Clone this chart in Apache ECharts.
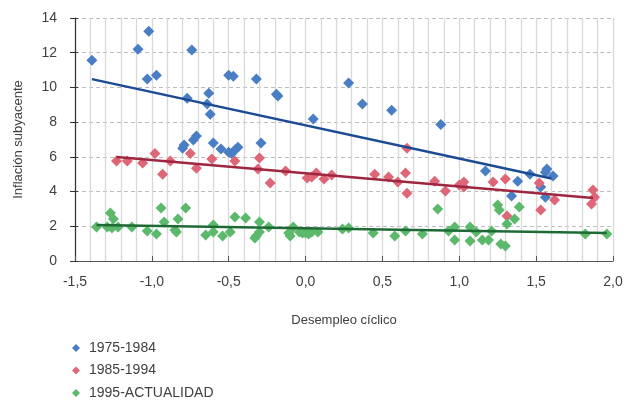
<!DOCTYPE html>
<html><head><meta charset="utf-8">
<script src="https://cdn.jsdelivr.net/npm/echarts@6/dist/echarts.min.js"></script>
<style>html,body{margin:0;padding:0;background:#fff}#c{width:632px;height:403px}</style>
</head><body><div id="c"></div>
<script>
const seriesNames = ['1975-1984', '1985-1994', '1995-ACTUALIDAD'];
const xTicks = [-1.5, -1.0, -0.5, 0.0, 0.5, 1.0, 1.5, 2.0];
const yTicks = [0, 2, 4, 6, 8, 10, 12, 14];

const pts1975 = [[-1.39,11.57],[-1.09,12.2],[-1.02,13.24],[-1.03,10.48],[-0.97,10.7],[-0.74,12.15],[-0.77,9.38],[-0.64,9.04],[-0.63,9.67],[-0.62,8.46],[-0.50,10.7],[-0.47,10.65],[-0.32,10.48],[-0.19,9.6],[-0.18,9.5],[-0.79,6.68],[-0.80,6.5],[-0.73,6.97],[-0.71,7.2],[-0.60,6.8],[-0.55,6.45],[-0.50,6.27],[-0.48,6.2],[-0.46,6.4],[-0.44,6.56],[-0.29,6.8],[0.05,8.18],[0.28,10.25],[0.37,9.04],[0.56,8.69],[0.88,7.87],[1.17,5.18],[1.34,3.74],[1.38,4.6],[1.46,5.0],[1.56,5.12],[1.57,5.3],[1.53,4.26],[1.56,3.68],[1.61,4.89]];

const pts1985 = [[-1.23,5.76],[-1.16,5.76],[-1.06,5.64],[-0.98,6.2],[-0.93,5.0],[-0.88,5.76],[-0.75,6.2],[-0.71,5.35],[-0.61,5.87],[-0.46,5.76],[-0.30,5.93],[-0.31,5.3],[-0.23,4.49],[-0.13,5.18],[0.01,4.78],[0.04,4.84],[0.07,5.07],[0.12,4.72],[0.17,4.95],[0.45,5.0],[0.54,4.84],[0.60,4.55],[0.65,5.07],[0.66,3.91],[0.66,6.5],[0.84,4.6],[0.91,4.03],[1.0,4.38],[1.03,4.55],[1.03,4.26],[1.22,4.55],[1.30,4.72],[1.31,2.59],[1.52,4.49],[1.53,2.94],[1.62,3.51],[1.87,4.09],[1.88,3.68],[1.86,3.28]];

const pts1995 = [[-1.36,1.96],[-1.27,2.76],[-1.25,2.42],[-1.29,1.96],[-1.26,1.9],[-1.22,1.96],[-1.13,1.96],[-1.03,1.73],[-0.97,1.55],[-0.94,3.05],[-0.92,2.25],[-0.85,1.78],[-0.84,1.67],[-0.83,2.42],[-0.78,3.05],[-0.65,1.5],[-0.60,1.67],[-0.60,2.07],[-0.54,1.44],[-0.49,1.67],[-0.46,2.53],[-0.39,2.48],[-0.33,1.32],[-0.32,1.44],[-0.30,2.25],[-0.30,1.67],[-0.24,1.96],[-0.11,1.61],[-0.10,1.44],[-0.08,1.96],[-0.04,1.67],[0.0,1.61],[-0.02,1.61],[0.02,1.55],[0.04,1.67],[0.08,1.67],[0.24,1.84],[0.28,1.9],[0.44,1.61],[0.58,1.44],[0.65,1.73],[0.76,1.55],[0.86,2.99],[0.93,1.73],[0.97,1.96],[0.97,1.21],[1.07,1.96],[1.07,1.15],[1.11,1.67],[1.15,1.21],[1.19,1.21],[1.21,1.73],[1.25,3.22],[1.26,2.94],[1.27,0.98],[1.30,0.86],[1.31,2.13],[1.36,2.42],[1.39,3.11],[1.82,1.55],[1.96,1.55]];

const trend1975 = [[-1.39,10.48],[1.60,4.75]];
const trend1985 = [[-1.23,5.99],[1.87,3.63]];
const trend1995 = [[-1.36,2.07],[1.96,1.61]];

const markerColors = ['#4A7EC4', '#DE6677', '#5CB96B'];
const lineColors = ['#1B4B93', '#9E2640', '#1E6A34'];
const fontFam = '"Liberation Sans", Arial, sans-serif';
const fmt = v => v.toFixed(1).replace('.', ',');

const chart = echarts.init(document.getElementById('c'), null, {renderer: 'canvas'});
const scatter = (name, data, i) => ({
  name, type: 'scatter', data, symbol: 'diamond', symbolSize: 11,
  itemStyle: {color: markerColors[i], opacity: 1}, z: 3
});
const trend = (data, i) => ({
  type: 'line', data, showSymbol: false, symbol: 'none', silent: true,
  lineStyle: {color: lineColors[i], width: 2.5}, z: 4
});
chart.setOption({
  animation: false,
  textStyle: {fontFamily: fontFam},
  grid: {left: 75, right: 19, top: 18, bottom: 142, containLabel: false},
  legend: {
    orient: 'vertical', left: 72, top: 341, height: 70, padding: 0, itemGap: 8.5,
    icon: 'diamond', itemWidth: 8, itemHeight: 8,
    data: seriesNames,
    textStyle: {fontFamily: fontFam, fontSize: 14, color: '#404040', padding: [0, 0, 0, 4]}
  },
  xAxis: {
    type: 'value', min: xTicks[0], max: xTicks[xTicks.length - 1], interval: 0.5,
    name: 'Desempleo cíclico', nameLocation: 'middle', nameGap: 53,
    nameTextStyle: {fontSize: 13, color: '#404040', fontFamily: fontFam},
    axisLine: {onZero: false, lineStyle: {color: '#555', width: 1}},
    axisTick: {show: true, inside: true, length: 5, lineStyle: {color: '#555'}},
    axisLabel: {formatter: fmt, fontSize: 14, color: '#404040', margin: 14, fontFamily: fontFam},
    splitLine: {show: true, lineStyle: {color: '#d8d8d8', width: 1.3}},
    minorTick: {show: false, splitNumber: 5},
    minorSplitLine: {show: true, lineStyle: {color: '#d8d8d8', width: 1.3}}
  },
  yAxis: [{
    type: 'value', min: 0, max: 14, interval: 2,
    name: 'Inflación subyacente', nameLocation: 'middle', nameGap: 50, nameRotate: 90,
    nameTextStyle: {fontSize: 13, color: '#404040', fontFamily: fontFam},
    axisLine: {show: false}, axisTick: {show: false},
    axisLabel: {fontSize: 14, color: '#404040', margin: 18, fontFamily: fontFam},
    splitLine: {show: true, lineStyle: {color: '#bcbcbc', type: [4, 3], width: 1.2}}
  }, {
    type: 'value', min: 0, max: 14, interval: 2, position: 'left',
    axisLine: {show: true, onZero: true, lineStyle: {color: '#333', width: 1.2}},
    axisTick: {show: true, length: 5, lineStyle: {color: '#333'}},
    axisLabel: {show: false}, splitLine: {show: false}
  }, {
    type: 'value', min: 0, max: 14, interval: 2, position: 'left',
    axisLine: {show: false, onZero: true},
    axisTick: {show: true, inside: true, length: 3, lineStyle: {color: '#333'}},
    axisLabel: {show: false}, splitLine: {show: false}
  }],
  series: [
    scatter(seriesNames[0], pts1975, 0),
    scatter(seriesNames[1], pts1985, 1),
    scatter(seriesNames[2], pts1995, 2),
    trend(trend1975, 0),
    trend(trend1985, 1),
    trend(trend1995, 2)
  ]
});
</script></body></html>
